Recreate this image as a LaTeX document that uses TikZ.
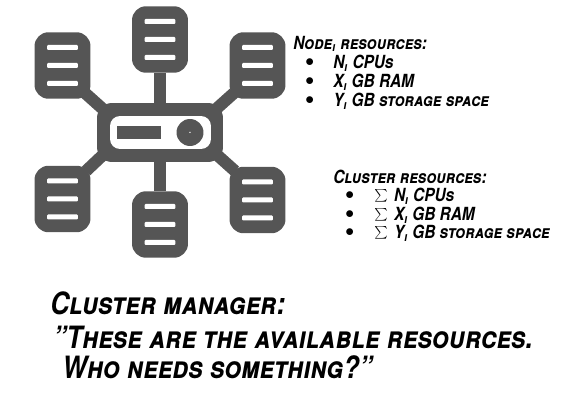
\documentclass[tikz,border=0pt]{standalone}
\usepackage{fontspec}
\usepackage{graphicx}
\setmainfont{TeX Gyre Heros}[FakeStretch=.85]
\definecolor{icongray}{HTML}{555555}
\newcommand{\sumsign}{\raisebox{.12em}{\scalebox{.72}{$\sum$}}\hspace{.35em}}
\begin{document}
\begin{tikzpicture}[x=.02cm,y=-.02cm]
\tikzstyle{server} = [rectangle, rounded corners=.28cm, minimum width=1.12cm, minimum height=1.33cm, inner sep=0pt, fill=icongray]
\tikzstyle{bar} = [rectangle, rounded corners=.02cm, minimum width=.62cm, minimum height=.1cm, inner sep=0pt, fill=white]
\tikzstyle{link} = [draw=icongray, line width=.24cm]
\tikzstyle{small} = [anchor=west, inner sep=0pt, font=\fontsize{10.3}{12}\selectfont\bfseries\itshape\scshape]
\tikzstyle{big} = [anchor=west, inner sep=0pt, font=\fontsize{17.5}{20}\selectfont\bfseries\itshape\scshape]
\useasboundingbox (0,0) rectangle (583,402);
% servers
\foreach \name/\x/\y in {top/160/39.5, tl/62.5/65.5, tr/257.5/65.5, bl/62.5/199, br/257.5/200, bot/160/224.5} {
  \node (\name) [server] at (\x,\y) {};
  \node (\name a) [bar] at (\x,\y-18) {};
  \node (\name b) [bar] at (\x,\y) {};
  \node (\name c) [bar] at (\x,\y+18) {};
}
% hub
\node (hub) [rectangle, rounded corners=.3cm, minimum width=2.52cm, minimum height=1.18cm, inner sep=0pt, fill=icongray] at (160,132.5) {};
\coordinate (hubtl) at (104,110);
\coordinate (hubtr) at (215,110);
\coordinate (hubbl) at (104,154);
\coordinate (hubbr) at (216,154);
\coordinate (tlend) at (85,93);
\coordinate (trend) at (234,93);
\coordinate (blend) at (86,171);
\coordinate (brend) at (235,171);
\draw [link] (top) -- (hub);
\draw [link] (bot) -- (hub);
\draw [link] (tlend) -- (hubtl);
\draw [link] (trend) -- (hubtr);
\draw [link] (blend) -- (hubbl);
\draw [link] (brend) -- (hubbr);
\node (panel) [rectangle, rounded corners=.2cm, minimum width=2.02cm, minimum height=.66cm, inner sep=0pt, fill=white] at (160.5,132.5) {};
\node (slot) [rectangle, minimum width=.88cm, minimum height=.26cm, inner sep=0pt, fill=icongray] at (139,132.5) {};
\node (knob) [circle, minimum size=.54cm, inner sep=0pt, fill=icongray] at (190,132.5) {};
\node (pin) [circle, minimum size=.03cm, inner sep=0pt, fill=white] at (190,132.5) {};
% node resources
\node (nodehead) [small] at (293,44) {Node\textsubscript{i} resources:};
\node (nodebulleta) [small] at (305,63) {$\bullet$};
\node (nodebulletb) [small] at (305,82) {$\bullet$};
\node (nodebulletc) [small] at (305,101) {$\bullet$};
\node (nodecpu) [small] at (333,63) {N\textsubscript{i} CPUs};
\node (noderam) [small] at (333,82) {X\textsubscript{i} GB RAM};
\node (nodedisk) [small] at (333,101) {Y\textsubscript{i} GB storage space};
% cluster resources
\node (clusterhead) [small] at (333,177) {Cluster resources:};
\node (clusterbulleta) [small] at (345,196) {$\bullet$};
\node (clusterbulletb) [small] at (345,215) {$\bullet$};
\node (clusterbulletc) [small] at (345,233) {$\bullet$};
\node (clustercpu) [small] at (374,196) {\sumsign N\textsubscript{i} CPUs};
\node (clusterram) [small] at (374,215) {\sumsign X\textsubscript{i} GB RAM};
\node (clusterdisk) [small] at (374,233) {\sumsign Y\textsubscript{i} GB storage space};
% manager
\node (managera) [big] at (50,303) {Cluster manager:};
\node (managerb) [big] at (53,337) {"These are the available resources.};
\node (managerc) [big] at (62,367) {Who needs something?"};
\end{tikzpicture}
\end{document}
